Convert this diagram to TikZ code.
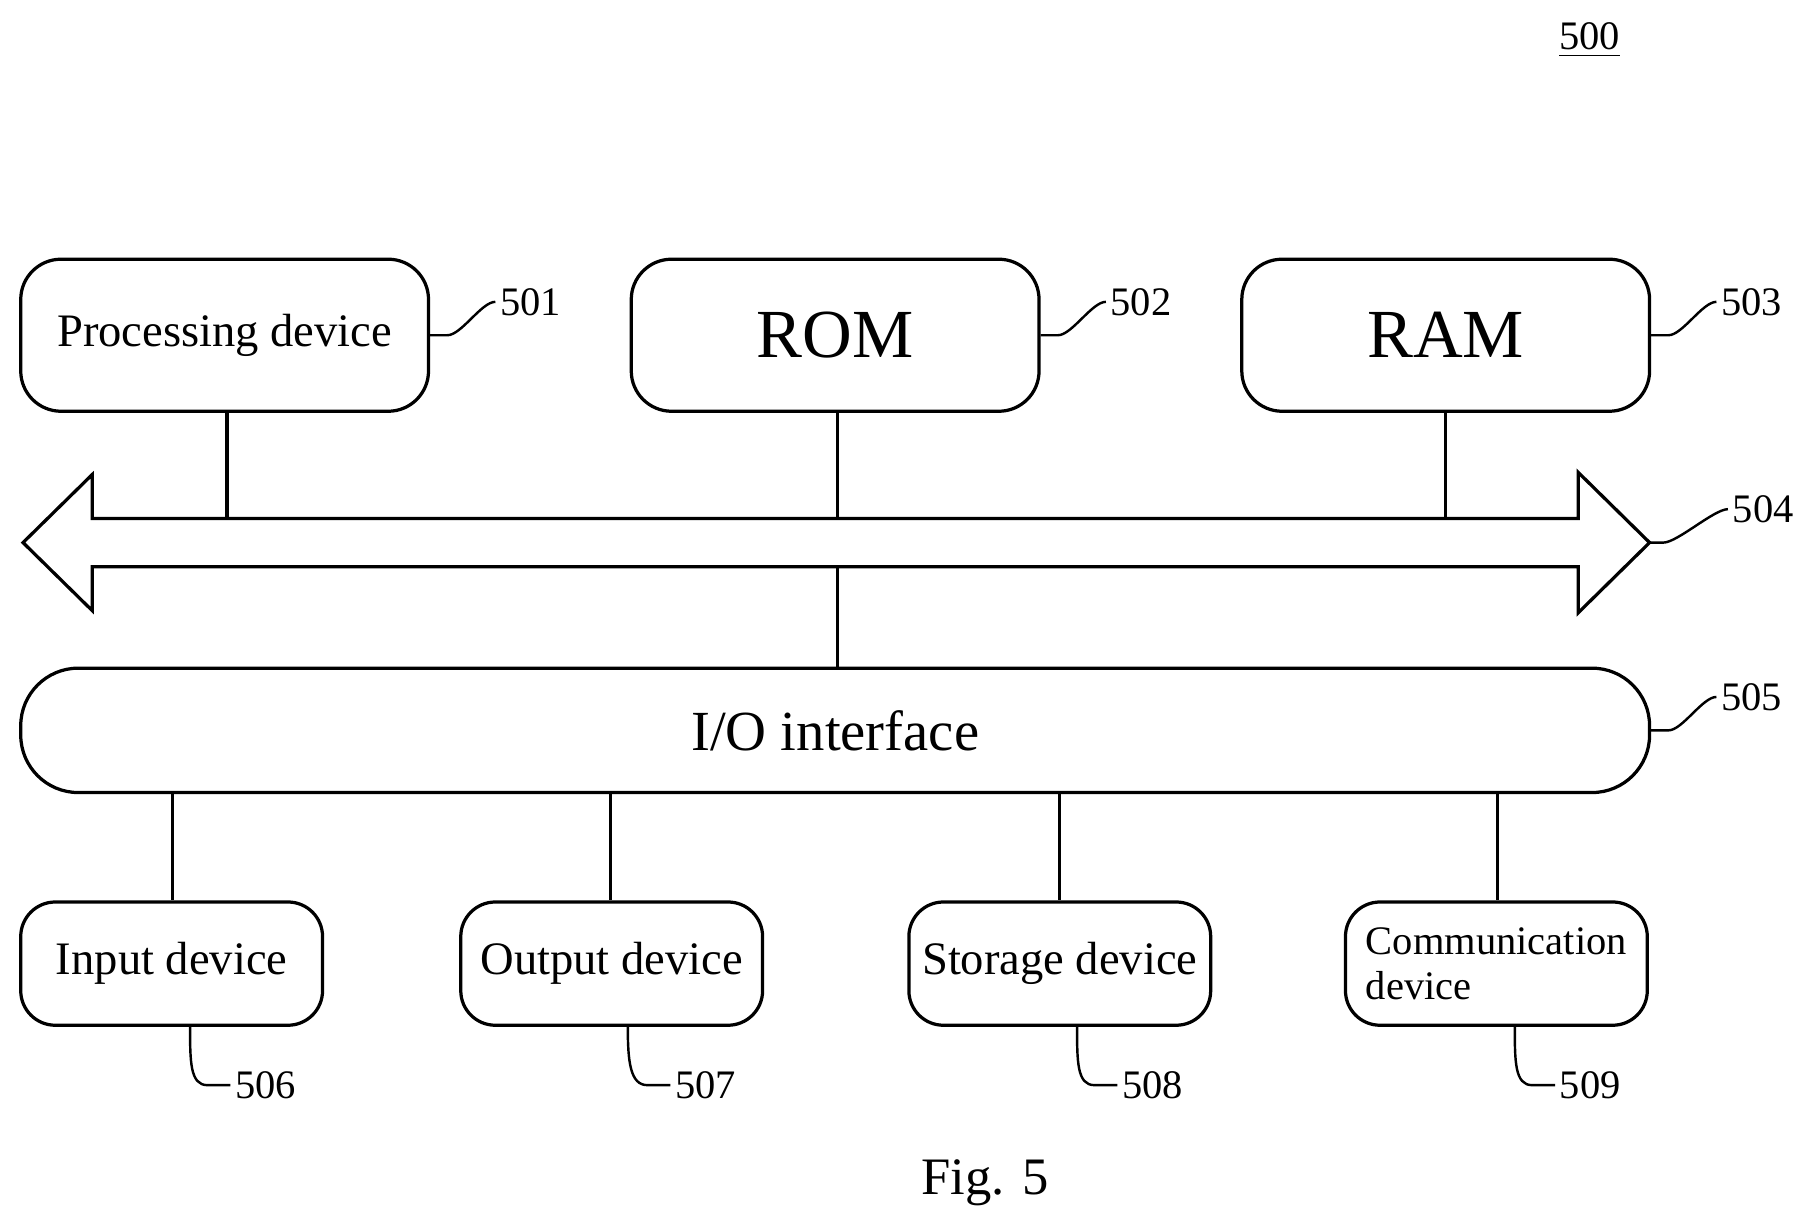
\documentclass[tikz,border=0pt]{standalone}
\usepackage{fontspec}
\setmainfont{Liberation Serif}
\usetikzlibrary{calc}
\begin{document}
\begin{tikzpicture}[
  box/.style={draw,line width=0.8pt,rounded corners=0.35cm,inner sep=0pt},
  ref/.style={font=\fontsize{10}{12}\selectfont,inner sep=1pt,anchor=west},
  sq/.style={line width=0.6pt},
  ln/.style={line width=0.8pt}]
\useasboundingbox (0,0) rectangle (15.6,-10.64);
\node[font=\fontsize{10}{12}\selectfont] (n500) at (13.8,-0.35) {\underline{500}};
% top boxes
\node[box,minimum width=3.54cm,minimum height=1.32cm,font=\fontsize{11.5}{14}\selectfont] (pd) at (1.95,-2.91) {Processing device};
\node[box,minimum width=3.54cm,minimum height=1.32cm,font=\fontsize{17}{20}\selectfont] (rom) at (7.25,-2.91) {ROM};
\node[box,minimum width=3.54cm,minimum height=1.32cm,font=\fontsize{17}{20}\selectfont] (ram) at (12.55,-2.91) {RAM};
\node[ref] (r501) at (4.3,-2.62) {501};
\node[ref] (r502) at (9.6,-2.62) {502};
\node[ref] (r503) at (14.9,-2.62) {503};
\draw[sq] (pd.east) -- ++(0.15,0) .. controls +(0.12,0) and +(-0.12,0) .. (r501.west);
\draw[sq] (rom.east) -- ++(0.15,0) .. controls +(0.12,0) and +(-0.12,0) .. (r502.west);
\draw[sq] (ram.east) -- ++(0.15,0) .. controls +(0.12,0) and +(-0.12,0) .. (r503.west);
% bus
\coordinate (bl) at (0.2,-4.71);
\coordinate (br) at (14.32,-4.71);
\draw[ln,fill=white] (bl) -- (0.8,-4.12) -- (0.8,-4.50) -- (13.7,-4.50) -- (13.7,-4.10)
  -- (br) -- (13.7,-5.32) -- (13.7,-4.92) -- (0.8,-4.92) -- (0.8,-5.30) -- cycle;
\node[ref] (r504) at (15.0,-4.42) {504};
\draw[sq] (br) -- ++(0.12,0) .. controls +(0.12,0) and +(-0.12,0) .. (r504.west);
\coordinate (b1) at (1.97,-4.50);
\coordinate (b2) at (7.27,-4.50);
\coordinate (b3) at (12.55,-4.50);
\coordinate (b4) at (7.27,-4.92);
\draw[ln] (pd.south -| b1) -- (b1);
\draw[ln] (rom.south -| b2) -- (b2);
\draw[ln] (ram.south -| b3) -- (b3);
% IO
\node[box,rounded corners=0.5cm,minimum width=14.14cm,minimum height=1.08cm,font=\fontsize{14}{17}\selectfont] (io) at (7.25,-6.34) {I/O interface};
\draw[ln] (b4) -- (b4 |- io.north);
\node[ref] (r505) at (14.9,-6.05) {505};
\draw[sq] (io.east) -- ++(0.15,0) .. controls +(0.12,0) and +(-0.12,0) .. (r505.west);
% bottom boxes
\tikzset{bb/.style={box,rounded corners=0.3cm,minimum width=2.62cm,minimum height=1.07cm,font=\fontsize{11.5}{14}\selectfont}}
\node[bb] (in) at (1.49,-8.365) {Input device};
\node[bb] (out) at (5.31,-8.365) {Output device};
\node[bb] (st) at (9.2,-8.365) {Storage device};
\node[bb,align=left,font=\fontsize{10}{11}\selectfont] (cm) at (12.99,-8.365) {Communication\\device};
\foreach \n/\x in {in/1.5,out/5.3,st/9.2,cm/13.0}
  \draw[ln] (\x,-6.88) -- (\n.north -| \x,0);
\node[ref] (r506) at (2.0,-9.42) {506};
\node[ref] (r507) at (5.82,-9.42) {507};
\node[ref] (r508) at (9.7,-9.42) {508};
\node[ref] (r509) at (13.5,-9.42) {509};
\foreach \n/\x/\r in {in/1.65/r506,out/5.45/r507,st/9.35/r508,cm/13.15/r509}
  \draw[sq] (\n.south -| \x,0) .. controls +(0,-0.3) and +(-0.15,0) .. ($(\r.west)+(-0.2,0)$) -- (\r.west);
\node[font=\fontsize{13}{16}\selectfont] (fig) at (8.55,-10.27) {Fig. 5};
\end{tikzpicture}
\end{document}
